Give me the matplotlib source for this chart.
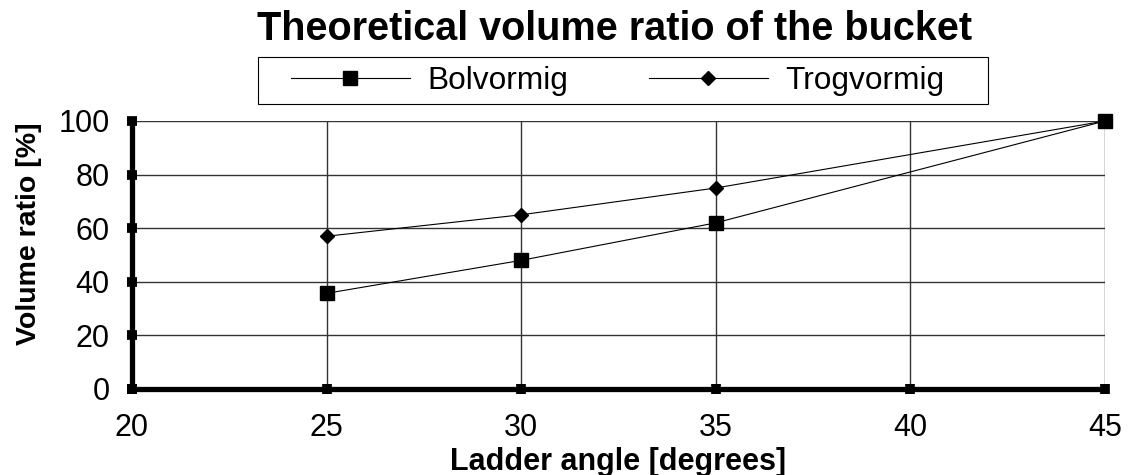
import matplotlib
import matplotlib.pyplot as plt
from matplotlib.patches import Rectangle

matplotlib.use('Agg')
plt.rcParams['font.family'] = ['Liberation Sans', 'DejaVu Sans']

angles = [25, 30, 35, 45]
bolvormig = [35.7, 48, 62, 100]
trogvormig = [57, 65, 75, 100]
x_ticks = [20, 25, 30, 35, 40, 45]
y_ticks = [0, 20, 40, 60, 80, 100]

W, H = 1128, 475
fig = plt.figure(figsize=(W / 100, H / 100), dpi=100)
ax = fig.add_subplot()
fig.subplots_adjust(left=132 / W, right=1105 / W, top=1 - 121 / H, bottom=1 - 389 / H)

ax.plot(angles, bolvormig, color='black', linewidth=0.8, marker='s', markersize=10.5,
        label='Bolvormig', clip_on=False, zorder=5)
ax.plot(angles, trogvormig, color='black', linewidth=0.8, marker='D', markersize=7.5,
        label='Trogvormig', clip_on=False, zorder=5)

ax.set_xlim(20, 45)
ax.set_ylim(0, 100)
ax.set_xticks(x_ticks)
ax.set_yticks(y_ticks)
ax.grid(True, color='#333333', linewidth=1.0)
ax.set_axisbelow(True)

for side in ['top', 'right']:
    ax.spines[side].set_visible(False)
for side in ['left', 'bottom']:
    ax.spines[side].set_linewidth(3.8)
    ax.spines[side].set_zorder(6)

ax.tick_params(axis='both', direction='inout', length=7, width=7, labelsize=22)
ax.tick_params(axis='x', pad=13.5)
ax.tick_params(axis='y', pad=12.5)

ax.set_xlabel('Ladder angle [degrees]', fontsize=22, fontweight='bold')
ax.xaxis.set_label_coords(0.5, -0.215)
ax.set_ylabel('Volume ratio [%]', fontsize=20.5, fontweight='bold')
ax.yaxis.set_label_coords(-0.093, 0.58)
fig.suptitle('Theoretical volume ratio of the bucket', fontsize=28.5, fontweight='bold',
             x=615 / W, y=1 - 29 / H, va='center')

leg = fig.legend(loc='center left', bbox_to_anchor=(291 / W, 1 - 81 / H), ncol=2, fontsize=22.8,
                 frameon=False, handlelength=3.75, columnspacing=2.55, borderpad=0,
                 borderaxespad=0, handletextpad=0.55)
fig.patches.append(Rectangle((258 / W, 1 - 104 / H), 730 / W, 47 / H, transform=fig.transFigure,
                             fill=False, edgecolor='black', linewidth=0.8))

plt.savefig('out.png', dpi=100)
